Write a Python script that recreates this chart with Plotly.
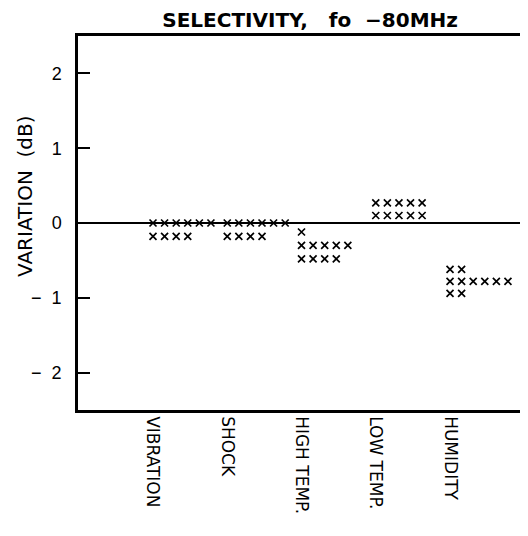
import plotly.graph_objects as go

categories = ["VIBRATION", "SHOCK", "HIGH TEMP.", "LOW TEMP.", "HUMIDITY"]
vibration = [0, 0, 0, 0, 0, 0, -0.18, -0.18, -0.18, -0.18]
shock = [0, 0, 0, 0, 0, 0, -0.18, -0.18, -0.18, -0.18]
high_temp = [-0.12, -0.3, -0.3, -0.3, -0.3, -0.3, -0.48, -0.48, -0.48, -0.48]
low_temp = [0.27, 0.27, 0.27, 0.27, 0.27, 0.1, 0.1, 0.1, 0.1, 0.1]
humidity = [-0.62, -0.62, -0.78, -0.78, -0.78, -0.78, -0.78, -0.78, -0.94, -0.94]
series = [vibration, shock, high_temp, low_temp, humidity]

y_tickvals = [2, 1, 0, -1, -2]
y_ticktext = ["2", "1", "0", "−  1", "−  2"]

STEP = 0.156  # horizontal stacking step for repeated values (dot plot)

xs, ys = [], []
for ci, vals in enumerate(series):
    counts = {}
    for v in vals:
        k = counts.get(v, 0)
        counts[v] = k + 1
        xs.append(ci + k * STEP)
        ys.append(v)

FONT = "Liberation Sans, Arial, sans-serif"
WIDE = "DejaVu Sans"

fig = go.Figure()
fig.add_trace(go.Scatter(
    x=xs, y=ys, mode="markers",
    marker=dict(symbol="x-thin", size=7, color="black",
                line=dict(color="black", width=1.7)),
    showlegend=False, hoverinfo="skip",
))

# page body has an 8px margin; size the figure so the plot lands where the reference has it
fig.update_layout(
    width=520, height=528,
    margin=dict(l=70, r=0, t=28, b=126),
    paper_bgcolor="white", plot_bgcolor="white",
    title=dict(text="<b>SELECTIVITY,   fo  −80MHz</b>", x=0.581, xanchor="center",
               y=0.978, yanchor="middle",
               font=dict(family=WIDE, size=20, color="black")),
    font=dict(family=FONT, color="black"),
)
fig.update_xaxes(
    range=[-1.01, 5.05], showgrid=False, zeroline=False,
    showline=True, linecolor="black", linewidth=2.5, mirror=True,
    tickvals=list(range(len(categories))), ticktext=categories,
    tickangle=90, ticks="", tickfont=dict(size=17, family=WIDE),
)
fig.update_yaxes(
    range=[-2.5, 2.5], showgrid=False,
    zeroline=True, zerolinecolor="black", zerolinewidth=1.6,
    showline=True, linecolor="black", linewidth=2.5, mirror=False,
    tickvals=y_tickvals, ticktext=y_ticktext,
    ticks="inside", ticklen=12, tickwidth=1.5, tickcolor="black",
    tickfont=dict(size=18, family=FONT), ticklabelstandoff=10,
)
fig.add_annotation(
    text="VARIATION  (dB)", textangle=-90, showarrow=False,
    xref="paper", yref="paper", x=-0.118, y=0.572,
    xanchor="center", yanchor="middle",
    font=dict(size=20, family=WIDE, color="black"),
)

fig.write_html("out.html")
